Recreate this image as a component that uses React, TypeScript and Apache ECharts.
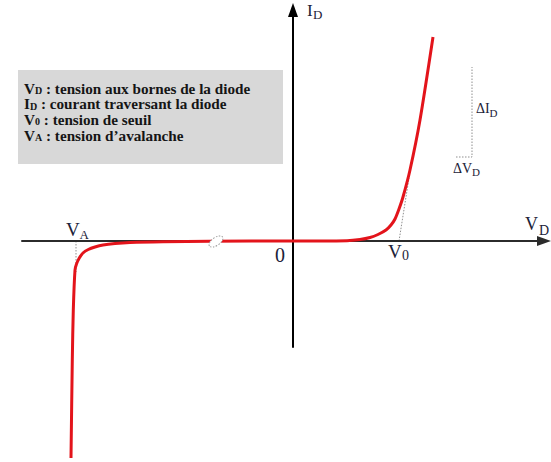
import { useEffect, useRef } from "react";
import * as echarts from "echarts";

const SERIF = '"Liberation Serif", "Times New Roman", serif';
const INK = "#1c2238";
const BOX_INK = "#151515";
const RED = "#e3141b";
const DOT = "#8f8f8f";

// Diode characteristic I_D(V_D), arbitrary units.
// Reverse branch: avalanche at V_A, then leakage current close to zero.
const reverseV = [-2.22, -2.207, -2.197, -2.18, -2.165, -2.137, -2.1, -2.047, -1.98, -1.9, -1.78, -1.63, -1.3, -0.83, 0];
const reverseI = [-2.17, -1.19, -0.69, -0.29, -0.23, -0.17, -0.12, -0.085, -0.06, -0.04, -0.025, -0.015, -0.007, -0.002, 0];
// Forward branch: knee near the threshold V_0, then nearly linear rise.
const forwardV = [0.54, 0.67, 0.77, 0.85, 0.93, 0.98, 1.02, 1.06, 1.1, 1.17, 1.27, 1.4];
const forwardI = [0.003, 0.015, 0.035, 0.065, 0.11, 0.16, 0.22, 0.32, 0.44, 0.71, 1.21, 2.04];

// Construction lines
const V0 = 1.06;
const VA = -2.17;
const tangentV = [V0, 1.16];
const tangentI = [0, 0.63];
const avalancheV = [VA, VA];
const avalancheI = [0, -0.31];
const slopeV = [1.63, 1.79, 1.79];
const slopeI = [0.84, 0.84, 1.74];

// Axis extents
const X_MIN = -2.71;
const X_MAX = 2.51;
const Y_MIN = -1.06;
const Y_MAX = 2.31;

const legendLines: [string, string, string][] = [
  ["V", "D", " : tension aux bornes de la diode"],
  ["I", "D", " : courant traversant la diode"],
  ["V", "0", " : tension de seuil"],
  ["V", "A", " : tension d\u2019avalanche"],
];

// Times-bold advance widths (per em) for the symbol letters of the legend
const BOLD_WIDTH: Record<string, number> = { V: 0.722, I: 0.389, D: 0.722, "0": 0.5, A: 0.722 };

const zip = (xs: number[], ys: number[]) => xs.map((x, i) => [x, ys[i]]);

function label(text: string, x: number, baseline: number, size: number, weight = "normal", fill = INK) {
  return {
    type: "text",
    x,
    y: baseline - size * 0.34,
    z: 100,
    silent: true,
    style: {
      text,
      fontSize: size,
      fontFamily: SERIF,
      fontWeight: weight,
      fill,
      align: "left",
      verticalAlign: "middle",
    },
  };
}

function dotted(xs: number[], ys: number[]) {
  return {
    type: "line",
    data: zip(xs, ys),
    showSymbol: false,
    silent: true,
    clip: false,
    z: 1,
    lineStyle: { color: DOT, width: 1, type: [1.5, 1.5] },
  };
}

export default function App() {
  const ref = useRef<HTMLDivElement>(null);

  useEffect(() => {
    if (!ref.current) return;
    const chart = echarts.init(ref.current, null, { renderer: "svg" });

    const curve = [...zip(reverseV, reverseI), ...zip(forwardV, forwardI)];

    const MAIN = 15.2;
    const SUB = 10;
    const legendTexts = legendLines.flatMap(([main, sub, rest], i) => {
      const x0 = 24;
      const base = 93.3 + i * 15.7;
      const x1 = x0 + BOLD_WIDTH[main] * MAIN;
      const x2 = x1 + BOLD_WIDTH[sub] * SUB;
      return [
        label(main, x0, base, MAIN, "bold", BOX_INK),
        label(sub, x1, base + 0.5, SUB, "bold", BOX_INK),
        label(rest, x2, base, MAIN, "bold", BOX_INK),
      ];
    });

    chart.setOption({
      animation: false,
      grid: { left: 22, right: 7, top: 10, bottom: 115, containLabel: false },
      xAxis: {
        type: "value",
        min: X_MIN,
        max: X_MAX,
        axisLine: {
          onZero: true,
          symbol: ["none", "triangle"],
          symbolSize: [10, 14],
          lineStyle: { color: "#2b2b2b", width: 2 },
        },
        axisTick: { show: false },
        axisLabel: { show: false },
        splitLine: { show: false },
        z: 3,
      },
      yAxis: {
        type: "value",
        min: Y_MIN,
        max: Y_MAX,
        axisLine: {
          onZero: true,
          symbol: ["none", "triangle"],
          symbolSize: [10, 14],
          lineStyle: { color: "#000", width: 2 },
        },
        axisTick: { show: false },
        axisLabel: { show: false },
        splitLine: { show: false },
      },
      series: [
        dotted(tangentV, tangentI),
        dotted(avalancheV, avalancheI),
        dotted(slopeV, slopeI),
        {
          type: "line",
          data: curve,
          smooth: 0.25,
          showSymbol: false,
          silent: true,
          clip: false,
          z: 5,
          lineStyle: { color: RED, width: 3 },
        },
      ],
      graphic: [
        {
          type: "rect",
          z: 99,
          silent: true,
          shape: { x: 18, y: 70, width: 265, height: 94 },
          style: { fill: "#d8d8d8" },
        },
        ...legendTexts,
        // break mark on the reverse branch
        {
          type: "ellipse",
          x: 216,
          y: 241.5,
          rotation: 0.6,
          z: 100,
          silent: true,
          shape: { cx: 0, cy: 0, rx: 8, ry: 4 },
          style: { fill: "#fff", stroke: "#9a9a9a", lineWidth: 1, lineDash: [1.5, 1.5] },
        },
        label("I", 307, 16, 17),
        label("D", 313, 18.5, 13),
        label("V", 525, 230.5, 18),
        label("D", 539, 235, 14),
        label("0", 275, 262, 20),
        label("V", 388, 257.5, 19),
        label("0", 402, 260.5, 14),
        label("V", 66, 235.5, 19),
        label("A", 79.5, 239, 13),
        label("\u0394I", 476, 113.5, 14),
        label("D", 489.5, 117, 11),
        label("\u0394V", 453, 173.5, 14),
        label("D", 472, 176, 11),
      ],
    });

    return () => chart.dispose();
  }, []);

  return (
    <div
      ref={ref}
      style={{ position: "absolute", left: 0, top: 0, width: 551, height: 462, background: "#fff" }}
    />
  );
}
